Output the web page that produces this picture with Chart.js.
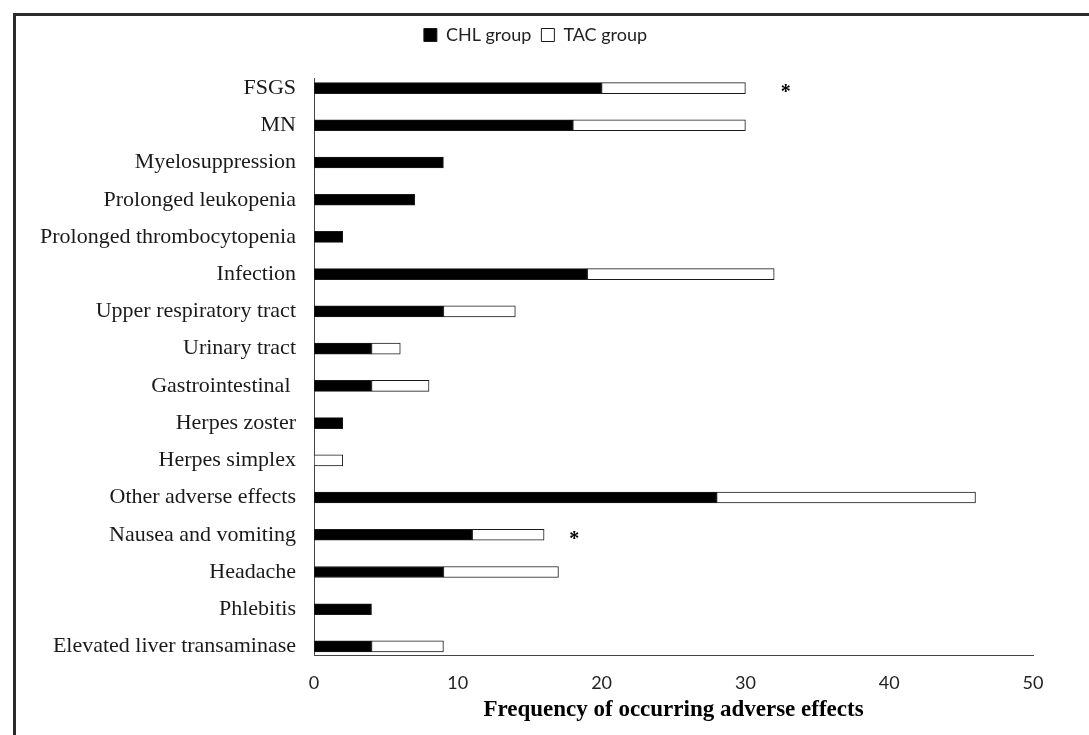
<!DOCTYPE html>
<html>
<head>
<meta charset="utf-8">
<script src="https://cdn.jsdelivr.net/npm/chart.js@4/dist/chart.umd.min.js"></script>
<style>
  body { margin: 0; background: #fff; }
  canvas { display: block; }
</style>
</head>
<body>
<canvas id="effectsChart" width="1089" height="735"></canvas>
<script>
// Datos
const categories = [
    'FSGS', 'MN', 'Myelosuppression', 'Prolonged leukopenia', 'Prolonged thrombocytopenia',
    'Infection', 'Upper respiratory tract', 'Urinary tract', 'Gastrointestinal ',
    'Herpes zoster', 'Herpes simplex', 'Other adverse effects', 'Nausea and vomiting',
    'Headache', 'Phlebitis', 'Elevated liver transaminase'
];
const chlValues = [20, 18, 9, 7, 2, 19, 9, 4, 4, 2, 0, 28, 11, 9, 4, 4];
const tacValues = [10, 12, 0, 0, 0, 13, 5, 2, 4, 0, 2, 18, 5, 8, 0, 5];
const seriesNames = ['CHL group', 'TAC group'];
const xTicks = [0, 10, 20, 30, 40, 50];
const axisTitle = 'Frequency of occurring adverse effects';
// asteriscos de significancia (categoria, valor en el eje x)
const sigMarks = [
    { category: 'FSGS', at: 32.8 },
    { category: 'Nausea and vomiting', at: 18.1 }
];

const toPoints = (values) => values.map((v, i) => ({ x: v === 0 ? null : v, y: i }));

// marco exterior (solo borde izquierdo y superior visibles)
const framePlugin = {
    id: 'frame',
    beforeDraw(chart) {
        const c = chart.ctx;
        c.save();
        c.fillStyle = '#fff';
        c.fillRect(0, 0, chart.width, chart.height);
        c.strokeStyle = '#2b2b2b';
        c.lineWidth = 3;
        c.beginPath();
        c.moveTo(14.5, chart.height);
        c.lineTo(14.5, 14.5);
        c.lineTo(chart.width, 14.5);
        c.stroke();
        c.restore();
    }
};

// espacio extra bajo la leyenda y leyenda algo a la derecha
const legendGap = {
    id: 'legendGap',
    beforeInit(chart) {
        const origFit = chart.legend.fit;
        chart.legend.fit = function fit() {
            origFit.bind(chart.legend)();
            this.height += 24;
        };
    },
    afterLayout(chart) {
        chart.legend.left += 19;
        chart.legend.right += 19;
    }
};

const starPlugin = {
    id: 'stars',
    afterDatasetsDraw(chart) {
        const c = chart.ctx;
        const xs = chart.scales.x, ys = chart.scales.y;
        c.save();
        c.fillStyle = '#000';
        c.font = 'bold 20px "Liberation Serif"';
        c.textAlign = 'center';
        c.textBaseline = 'middle';
        sigMarks.forEach((m) => {
            const i = categories.indexOf(m.category);
            c.fillText('*', xs.getPixelForValue(m.at), ys.getPixelForValue(i) + 5);
        });
        c.restore();
    }
};

const ctx = document.getElementById('effectsChart').getContext('2d');
const chart = new Chart(ctx, {
    type: 'bar',
    data: {
        datasets: [
            { label: seriesNames[0], data: toPoints(chlValues), backgroundColor: '#000', borderColor: '#1a1a1a', borderWidth: 1, borderSkipped: false, barThickness: 11 },
            { label: seriesNames[1], data: toPoints(tacValues), backgroundColor: '#fff', borderColor: '#1a1a1a', borderWidth: 1, borderSkipped: false, barThickness: 11 }
        ]
    },
    plugins: [framePlugin, legendGap, starPlugin],
    options: {
        indexAxis: 'y',
        responsive: false,
        animation: false,
        layout: { padding: { top: 16, right: 56, bottom: 0, left: 0 } },
        plugins: {
            legend: {
                position: 'top',
                labels: {
                    boxWidth: 13, boxHeight: 13, padding: 10, color: '#222',
                    font: { family: 'Lato', size: 18 }
                }
            },
            tooltip: { enabled: false }
        },
        scales: {
            x: {
                type: 'linear', stacked: true, min: 0, max: 50,
                afterBuildTicks: (scale) => { scale.ticks = xTicks.map((v) => ({ value: v })); },
                afterFit: (scale) => { scale.height = 80; },
                grid: { display: false, drawTicks: false },
                border: { display: true, color: '#444', width: 1 },
                ticks: { padding: 17, color: '#222', font: { family: 'Lato', size: 18 } },
                title: {
                    display: true, text: axisTitle, color: '#000',
                    font: { family: 'Liberation Serif', size: 23, weight: 'bold' },
                    padding: { top: 0, bottom: 11 }
                }
            },
            y: {
                type: 'linear', stacked: true, reverse: true, offset: false,
                min: -0.27, max: 15.23,
                afterBuildTicks: (scale) => { scale.ticks = categories.map((c, i) => ({ value: i })); },
                afterFit: (scale) => { scale.width = 314; },
                grid: { display: false, drawTicks: false, offset: false },
                border: { display: true, color: '#444', width: 1 },
                ticks: {
                    autoSkip: false, padding: 18, color: '#1a1a1a',
                    font: { family: 'Liberation Serif', size: 22 },
                    callback: (value) => categories[value]
                }
            }
        }
    }
});
</script>
</body>
</html>
